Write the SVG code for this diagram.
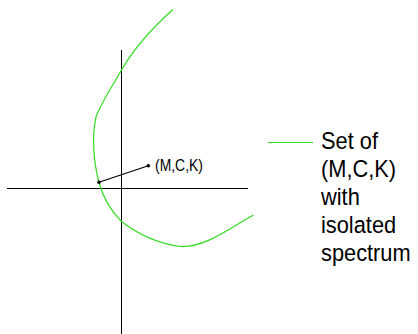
<svg xmlns="http://www.w3.org/2000/svg" width="418" height="334" viewBox="0 0 418 334">
<style>
.axis{stroke:#000;stroke-width:1;fill:none}
.curve{stroke:#33dd22;stroke-width:1.2;fill:none}
.lbl{font-family:"Liberation Sans",Arial,sans-serif;fill:#000}
</style>
<rect width="418" height="334" fill="#fff"/>
<g id="axes">
<line class="axis" x1="7" y1="188.5" x2="248" y2="188.5" stroke="#333"/>
<line class="axis" x1="121.5" y1="50" x2="121.5" y2="334"/>
</g>
<g id="curve">
<path class="curve" d="M173,9.5 C150,30 133,50 121.5,70 C110,90 100,105 96,117 C92,135 93,160 99,182.5 C103,197 110,210 121.5,221.5 C135,232 155,243 180,246.5 C205,248 230,228 253.5,215"/>
</g>
<g id="connectors">
<line x1="99" y1="182.3" x2="148.3" y2="165.7" stroke="#000" stroke-width="1.2"/>
<circle cx="99" cy="182.3" r="1.8" fill="#000"/>
<circle cx="148.3" cy="165.7" r="1.8" fill="#000"/>
</g>
<g id="point-label" transform="translate(155,0) scale(0.87,1)">
<text class="lbl" x="0" y="171" font-size="16">(M,C,K)</text>
</g>
<g id="legend">
<line x1="268" y1="142.5" x2="313" y2="142.5" class="curve"/>
<g transform="translate(321,0) scale(0.89,1)">
<text class="lbl" font-size="24.5">
<tspan x="0" y="149">Set of</tspan>
<tspan x="0" y="177">(M,C,K)</tspan>
<tspan x="0" y="205">with</tspan>
<tspan x="0" y="233">isolated</tspan>
<tspan x="0" y="261">spectrum</tspan>
</text>
</g>
</g>
</svg>
